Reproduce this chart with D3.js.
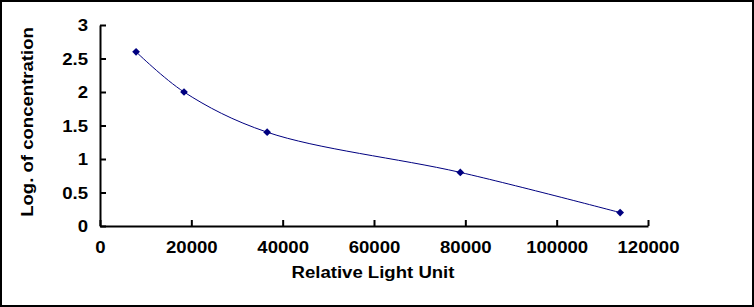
<!DOCTYPE html>
<html lang="en">
<head>
  <meta charset="UTF-8">
  <title>Standard Curve</title>
  <script src="https://d3js.org/d3.v7.min.js"></script>
  <style>
    html, body {
      margin: 0;
      padding: 0;
      background: #fff;
    }
    svg text {
      font-family: "Liberation Sans", Arial, sans-serif;
      font-weight: bold;
      fill: #000;
    }
  </style>
</head>
<body>
  <div id="chart"></div>
  <script>
    // values
    const rlu = [7900, 18400, 36600, 78900, 113900];
    const logConc = [2.6, 2.0, 1.4, 0.8, 0.2];
    const xTicks = [0, 20000, 40000, 60000, 80000, 100000, 120000];
    const yTicks = [0, 0.5, 1, 1.5, 2, 2.5, 3];

    const width = 754, height = 307;
    const margin = { top: 25, right: 106, bottom: 81, left: 100 };
    const stretch = 1.16; // the reference text is a bit wider than Liberation Sans

    const svg = d3.select("#chart").append("svg")
      .attr("width", width)
      .attr("height", height);

    // outer frame
    svg.append("rect")
      .attr("x", 1).attr("y", 1)
      .attr("width", width - 2).attr("height", height - 2)
      .attr("fill", "none")
      .attr("stroke", "#000")
      .attr("stroke-width", 2);

    const x = d3.scaleLinear()
      .domain([0, 120000])
      .range([margin.left, width - margin.right]);
    const y = d3.scaleLinear()
      .domain([0, 3])
      .range([height - margin.bottom, margin.top]);

    const xAxis = svg.append("g")
      .attr("transform", `translate(0,${y(0)})`)
      .call(d3.axisBottom(x).tickValues(xTicks).tickFormat(d3.format("d"))
        .tickSizeInner(-6).tickSizeOuter(0).tickPadding(16));
    const yAxis = svg.append("g")
      .attr("transform", `translate(${x(0)},0)`)
      .call(d3.axisLeft(y).tickValues(yTicks).tickFormat(d => d)
        .tickSizeInner(-6).tickSizeOuter(0).tickPadding(12));

    function widen(sel) {
      sel.each(function () {
        const len = this.getComputedTextLength();
        d3.select(this)
          .attr("textLength", len * stretch)
          .attr("lengthAdjust", "spacingAndGlyphs");
      });
    }

    [xAxis, yAxis].forEach(g => {
      g.select(".domain").attr("stroke", "#000").attr("stroke-width", 2);
      g.selectAll(".tick line").attr("stroke", "#000").attr("stroke-width", 2);
      g.selectAll(".tick text").style("font-size", "16px").call(widen);
    });
    yAxis.selectAll(".tick text").attr("dy", "0.36em");

    // axis titles
    svg.append("text")
      .attr("x", 373).attr("y", 278)
      .attr("text-anchor", "middle")
      .style("font-size", "16px")
      .text("Relative Light Unit")
      .call(widen);
    svg.append("text")
      .attr("transform", "translate(33,122) rotate(-90)")
      .attr("text-anchor", "middle")
      .style("font-size", "16px")
      .text("Log. of concentration")
      .call(widen);

    const pts = rlu.map((v, i) => [v, logConc[i]]);

    const line = d3.line()
      .x(d => x(d[0]))
      .y(d => y(d[1]))
      .curve(d3.curveCatmullRom.alpha(0.5));

    svg.append("path")
      .datum(pts)
      .attr("fill", "none")
      .attr("stroke", "#000080")
      .attr("stroke-width", 1)
      .attr("d", line);

    svg.selectAll(".pt")
      .data(pts)
      .enter().append("path")
      .attr("class", "pt")
      .attr("transform", d => `translate(${x(d[0])},${y(d[1])}) rotate(45)`)
      .attr("d", d3.symbol().type(d3.symbolSquare).size(30))
      .attr("fill", "#000080");
  </script>
</body>
</html>
